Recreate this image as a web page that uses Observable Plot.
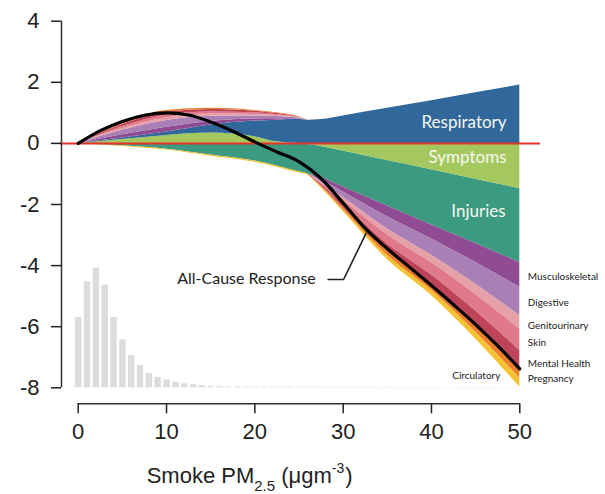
<!DOCTYPE html>
<html>
<head>
<meta charset="utf-8">
<script src="https://cdn.jsdelivr.net/npm/d3@7"></script>
<script src="https://cdn.jsdelivr.net/npm/@observablehq/plot@0.6"></script>
<style>
  body { margin: 0; background: #fff; }
  #chart svg { display: block; }
</style>
</head>
<body>
<div id="chart"></div>
<script>
// ---- data ----
const xs = [0, 5, 10, 15, 20, 22.5, 25, 26, 27.5, 30, 35, 40, 45, 50];
const symptoms        = [0, 0.13, 0.26, 0.34, 0.22, 0.05, 0, -0.03, -0.10, -0.25, -0.56, -0.86, -1.17, -1.48];
const respiratory     = [0, 0.05, 0.11, 0.26, 0.51, 0.71, 0.79, 0.76, 0.78, 0.90, 1.15, 1.40, 1.66, 1.91];
const injuries        = [0, -0.08, -0.19, -0.38, -0.58, -0.74, -0.93, -0.97, -1.02, -1.18, -1.49, -1.81, -2.11, -2.42];
const musculoskeletal = [0, 0.10, 0.16, 0.12, 0.07, 0.05, 0.02, 0, -0.07, -0.16, -0.35, -0.46, -0.62, -0.81];
const digestive       = [0, 0.15, 0.22, 0.17, 0.10, 0.07, 0.02, 0, -0.07, -0.18, -0.40, -0.53, -0.71, -0.93];
const genitourinary   = [0, 0.06, 0.085, 0.07, 0.05, 0.03, 0.01, 0, -0.03, -0.09, -0.19, -0.25, -0.34, -0.44];
const skin            = [0, 0.06, 0.085, 0.07, 0.05, 0.03, 0.01, 0, -0.05, -0.13, -0.30, -0.40, -0.54, -0.70];
const mentalHealth    = [0, 0.07, 0.10, 0.08, 0.05, 0.04, 0.01, 0, -0.04, -0.11, -0.23, -0.31, -0.42, -0.55];
const pregnancy       = [0, 0.04, 0.06, 0.04, 0.03, 0.02, 0.01, 0, -0.03, -0.06, -0.14, -0.19, -0.26, -0.35];
const circulatory     = [0, -0.02, -0.03, -0.04, -0.04, -0.04, -0.04, -0.04, -0.04, -0.07, -0.14, -0.17, -0.23, -0.30];

const categories = ["Symptoms", "Respiratory", "Injuries", "Musculoskeletal", "Digestive",
                    "Genitourinary", "Skin", "Mental Health", "Pregnancy", "Circulatory"];
const colors = ["#a5c85e", "#31689b", "#3c9a81", "#8f4c92", "#a97fb5",
                "#e6a0a8", "#e07a8a", "#be4459", "#ec7d2d", "#f6c232"];

const allCauseX = [0, 2.5, 5, 7.5, 10, 12.5, 15, 17.5, 20, 22.5, 25, 27.5, 30, 32.5, 35, 37.5, 40, 42.5, 45, 47.5, 50];
const allCauseY = [0, 0.42, 0.72, 0.92, 1.0, 0.93, 0.70, 0.40, 0.05, -0.28, -0.60, -1.15, -1.95, -2.78, -3.45, -4.05, -4.65, -5.28, -5.93, -6.63, -7.38];

// histogram of exposure (bar heights above the -8 baseline)
const histBins = d3.range(0, 50);
const histHeights = [2.30, 3.47, 3.92, 3.36, 2.30, 1.57, 1.05, 0.73, 0.47, 0.34, 0.26, 0.18, 0.13, 0.10, 0.07, 0.05, 0.04, 0.03,
                     0.03, 0.025, 0.02, 0.02, 0.02, 0.02, 0.02, 0.02, 0.018, 0.018, 0.016, 0.016, 0.015, 0.015, 0.014, 0.014,
                     0.013, 0.013, 0.012, 0.012, 0.011, 0.011, 0.01, 0.01, 0.01, 0.01, 0.01, 0.01, 0.01, 0.01, 0.01, 0.01];

const xTicks = [0, 10, 20, 30, 40, 50];
const yTicks = [-8, -6, -4, -2, 0, 2, 4];

const insideLabels = [
  {label: "Respiratory", x: 48.5, y: 0.69},
  {label: "Symptoms", x: 48.5, y: -0.45},
  {label: "Injuries", x: 48.4, y: -2.22}
];
const sideLabels = [
  {label: "Musculoskeletal", y: -4.38},
  {label: "Digestive", y: -5.23},
  {label: "Genitourinary", y: -5.96},
  {label: "Skin", y: -6.52},
  {label: "Mental Health", y: -7.2},
  {label: "Pregnancy", y: -7.69}
];
const circLabel = [{label: "Circulatory", x: 47.8, y: -7.62}];
const allCauseLabel = [{label: "All-Cause Response", x: 26.9, y: -4.42}];
const leader = [{x: 28.3, y: -4.455}, {x: 30.05, y: -4.455}, {x: 32.6, y: -2.94}];

// ---- diverging stack (positive parts above 0, negative parts below, in category order) ----
const values = [symptoms, respiratory, injuries, musculoskeletal, digestive, genitourinary, skin, mentalHealth, pregnancy, circulatory];
const bands = [];
xs.forEach((x, j) => {
  let yp = 0, yn = 0;
  categories.forEach((c, k) => {
    const s = values[k], v = s[j];
    const pos = v > 0 || (v === 0 && (s[j - 1] > 0 || s[j + 1] > 0));
    const neg = v < 0 || (v === 0 && (s[j - 1] < 0 || s[j + 1] < 0));
    if (pos) { bands.push({x, cat: c, part: c + "+", y1: yp, y2: yp + v}); yp += v; }
    if (neg) { bands.push({x, cat: c, part: c + "-", y1: yn, y2: yn + v}); yn += v; }
  });
});
const allCause = allCauseX.map((x, i) => ({x, y: allCauseY[i]}));
const hist = histBins.map((b, i) => ({bin: b, h: histHeights[i]}));

const yMin = yTicks[0], yMax = yTicks[yTicks.length - 1];
const font = "'Liberation Sans', Arial, Helvetica, sans-serif";
const labelFont = "Lato, 'Open Sans', sans-serif";

const chart = Plot.plot({
  width: 605,
  height: 494,
  marginLeft: 77.7,
  marginRight: 85.7,
  marginTop: 20.7,
  marginBottom: 106.7,
  style: {fontFamily: font, background: "white", overflow: "visible"},
  x: {domain: [0, 50], label: null},
  y: {domain: [yMin, yMax], label: null},
  color: {domain: categories, range: colors},
  marks: [
    // exposure histogram
    Plot.rect(hist, {
      x1: d => d.bin - 0.5, x2: d => d.bin + 0.5,
      y1: () => yMin, y2: d => yMin + d.h,
      fill: "#dcdcdc", insetLeft: 1.7, insetRight: 0.7
    }),
    // stacked category responses
    Plot.areaY(bands, {x: "x", y1: "y1", y2: "y2", z: "part", fill: "cat", curve: "monotone-x"}),
    // zero line
    Plot.ruleY([0], {stroke: "#e5332a", strokeWidth: 2, insetLeft: -17.7, insetRight: -20.7}),
    // all-cause response
    Plot.line(allCause, {x: "x", y: "y", stroke: "black", strokeWidth: 3.2, curve: "monotone-x", strokeLinecap: "round"}),
    // annotation
    Plot.line(leader, {x: "x", y: "y", stroke: "#222", strokeWidth: 1.6}),
    Plot.text(allCauseLabel, {x: "x", y: "y", text: "label", textAnchor: "end", fontSize: 16, fontFamily: labelFont, fill: "#222"}),
    Plot.text(insideLabels, {x: "x", y: "y", text: "label", textAnchor: "end", fontSize: 17, fontFamily: labelFont, fill: "#f7f7ee"}),
    Plot.text(sideLabels, {x: () => 50, y: "y", text: "label", textAnchor: "start", dx: 8, fontSize: 10, fontFamily: labelFont, fill: "#222"}),
    Plot.text(circLabel, {x: "x", y: "y", text: "label", textAnchor: "end", fontSize: 10, fontFamily: labelFont, fill: "#222"}),
    // axes (R-style, detached)
    Plot.ruleX([{x: 0, y1: yMin, y2: yMax}], {x: "x", y1: "y1", y2: "y2", dx: -16.7, stroke: "#333", strokeWidth: 1.5}),
    Plot.axisY(yTicks, {anchor: "left", tickSize: 10, tickPadding: 12, dx: -16.7, tickFormat: d => String(d),
                        fontSize: 22, color: "#222", strokeWidth: 1.5, label: null}),
    Plot.ruleY([{y: yMin, x1: xTicks[0], x2: xTicks[xTicks.length - 1]}], {y: "y", x1: "x1", x2: "x2", dy: 16, stroke: "#333", strokeWidth: 1.5}),
    Plot.axisX(xTicks, {anchor: "bottom", tickSize: 10, tickPadding: 10, dy: 16, tickFormat: d => String(d),
                        fontSize: 22, color: "#222", strokeWidth: 1.5, label: null})
  ]
});

// x-axis title with subscript / superscript
const svg = d3.select(chart);
const t = svg.append("text")
  .attr("x", 146.7).attr("y", 482.7)
  .attr("text-anchor", "start")
  .attr("font-family", font).attr("font-size", 22).attr("fill", "#222");
t.append("tspan").text("Smoke PM");
t.append("tspan").attr("font-size", 15).attr("dy", 8).text("2.5");
t.append("tspan").attr("dy", -8).attr("dx", 6).text("(μgm");
t.append("tspan").attr("font-size", 14).attr("dy", -10).text("-3");
t.append("tspan").attr("dy", 10).attr("dx", 1).text(")");

document.getElementById("chart").appendChild(chart);
</script>
</body>
</html>
